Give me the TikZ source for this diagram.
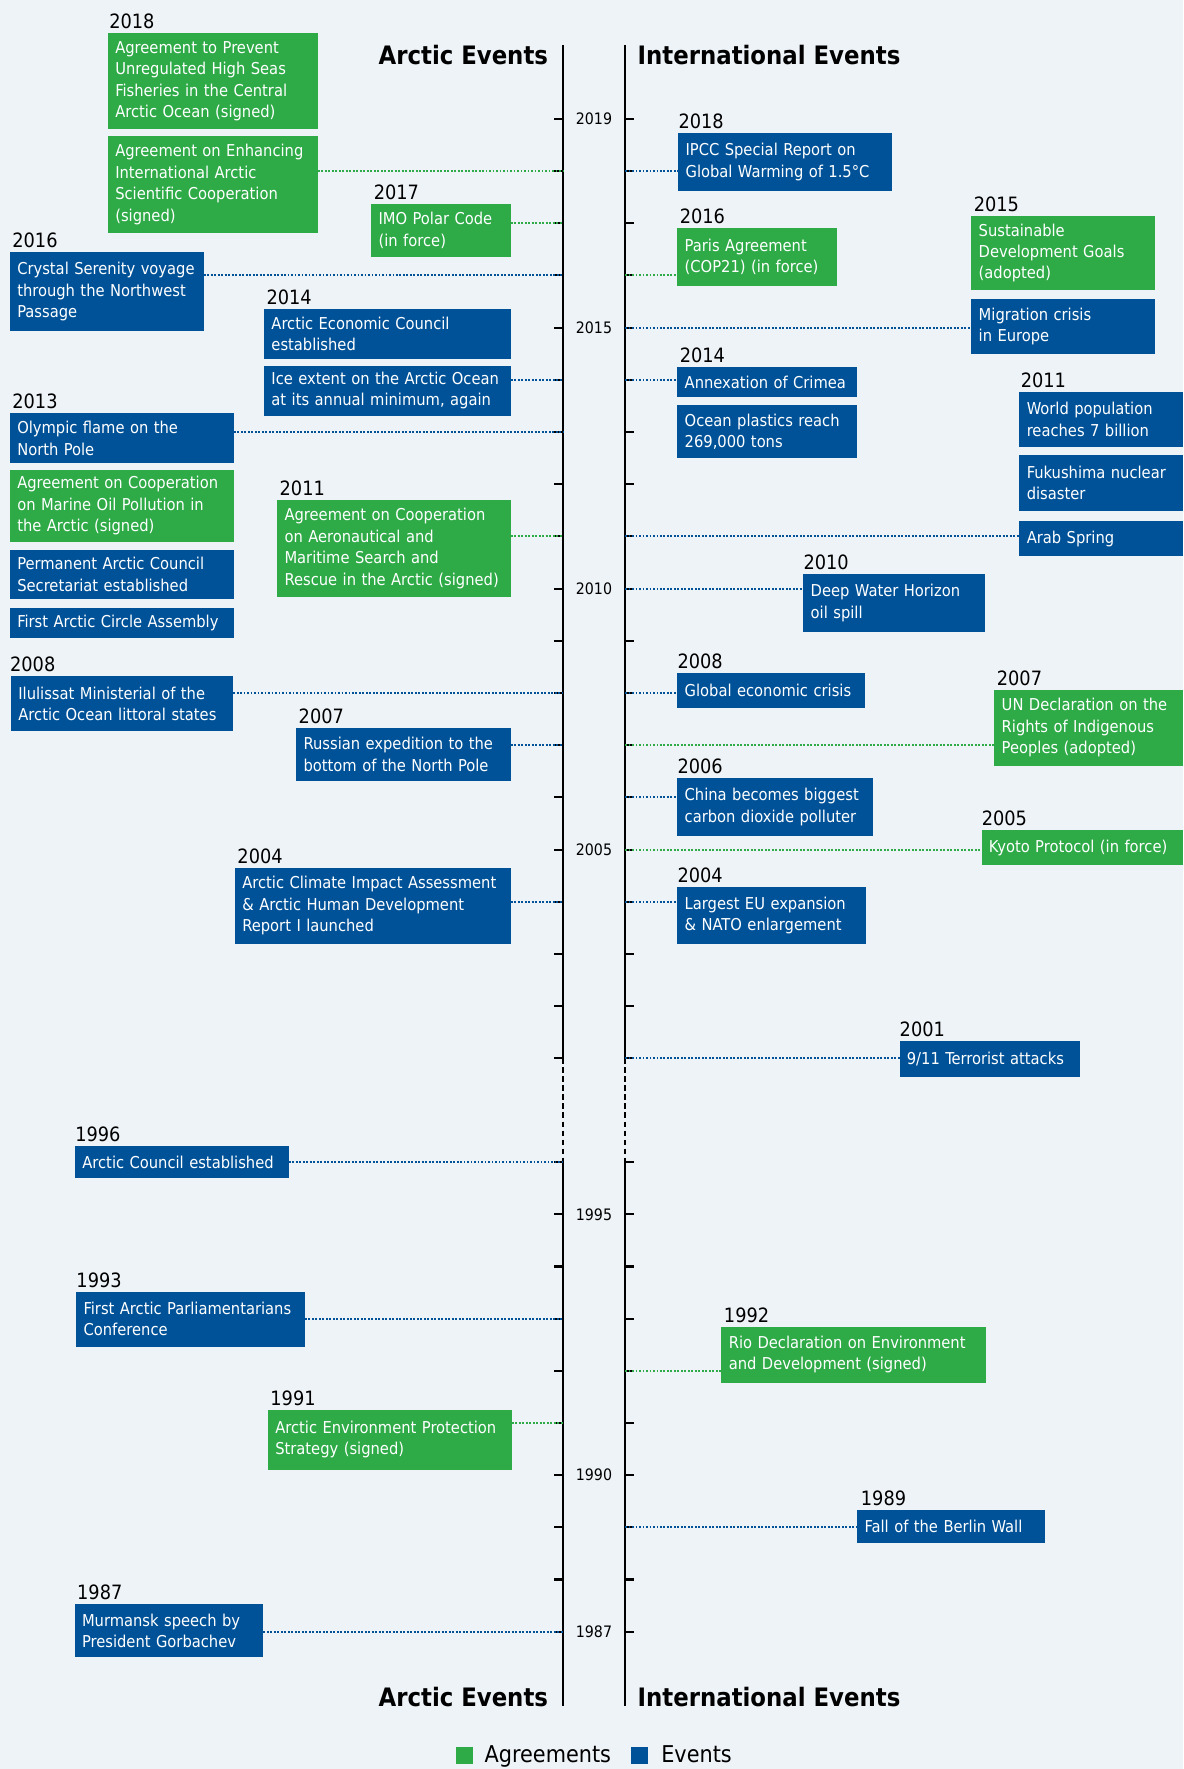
\documentclass[tikz,border=0pt]{standalone}
\usepackage{fontspec}
\setmainfont{DejaVu Sans Condensed}
\usetikzlibrary{calc}
\definecolor{agrgreen}{HTML}{2EAA47}
\definecolor{evblue}{HTML}{005298}
\definecolor{bgcol}{HTML}{EEF3F8}
\tikzset{box/.style={anchor=north west,inner xsep=6.5pt,inner ysep=0pt,outer sep=0pt,
           align=left,text=white,font=\fontsize{14.5}{19}\selectfont},
         agr/.style={box,fill=agrgreen},
         evt/.style={box,fill=evblue},
         year/.style={anchor=base west,inner sep=0pt,font=\fontsize{17.5}{20}\selectfont},
         axisline/.style={line width=1.8pt},
         axisgap/.style={line width=1.2pt,dash pattern=on 5pt off 3pt},
         tickmark/.style={line width=1.8pt},
         ticklabel/.style={inner sep=0pt,font=\fontsize{14}{16}\selectfont},
         agrlink/.style={agrgreen,line width=1.8pt,dash pattern=on 1.7pt off 1.4pt},
         evtlink/.style={evblue,line width=1.8pt,dash pattern=on 1.7pt off 1.4pt},
         heading/.style={inner sep=0pt,font=\fontsize{22.5}{26}\selectfont\bfseries},
         legendkey/.style={anchor=north west,inner sep=0pt,minimum size=15.4pt},
         legendtext/.style={anchor=base west,inner sep=0pt,font=\fontsize{20.5}{24}\selectfont}}

\begin{document}
\begin{tikzpicture}[x=1pt,y=-1pt]
  \fill[bgcol] (0,0) rectangle (1049,1568);
  \useasboundingbox (0,0) rectangle (1049,1568);

  % time axes
  \foreach \yr in {2001,...,2019}{
    \pgfmathsetmacro{\yy}{290.3+(2015-\yr)*46.27}
    \coordinate (L\yr) at (499,\yy);
    \coordinate (R\yr) at (554,\yy);
    \draw[tickmark] (L\yr) -- ++(-8,0);
    \draw[tickmark] (R\yr) -- ++(8,0);
  }
  \foreach \yr in {1987,...,1996}{
    \pgfmathsetmacro{\yy}{1030.1+(1996-\yr)*46.24}
    \coordinate (L\yr) at (499,\yy);
    \coordinate (R\yr) at (554,\yy);
    \draw[tickmark] (L\yr) -- ++(-8,0);
    \draw[tickmark] (R\yr) -- ++(8,0);
  }
  \draw[axisline] (499,40) -- (L2001);
  \draw[axisgap] (L2001) -- (L1996);
  \draw[axisline] (L1996) -- (499,1512);
  \draw[axisline] (554,40) -- (R2001);
  \draw[axisgap] (R2001) -- (R1996);
  \draw[axisline] (R1996) -- (554,1512);
  \foreach \yr in {2019,2015,2010,2005,1995,1990,1987}
    \node[ticklabel] (t\yr) at ($(L\yr)!0.5!(R\yr)$) {\yr};

  \node[heading,anchor=base east] (hAtop) at (486,57.5) {Arctic Events};
  \node[heading,anchor=base west] (hItop) at (565,57.5) {International Events};
  \node[heading,anchor=base east] (hAbot) at (486,1513) {Arctic Events};
  \node[heading,anchor=base west] (hIbot) at (565,1513) {International Events};

  % arctic events
  \node[agr,text width=172.9pt,minimum height=85.1pt] (a18a) at (95.7,29.6)
    {Agreement to Prevent\\Unregulated High Seas\\Fisheries in the Central\\Arctic Ocean (signed)};
  \node[agr,text width=172.9pt,minimum height=85.7pt] (a18b) at (95.7,120.6)
    {Agreement on Enhancing\\International Arctic\\Scientific Cooperation\\(signed)};
  \node[agr,text width=110.6pt,minimum height=46.7pt] (a17) at (329.1,180.9)
    {IMO Polar Code\\(in force)};
  \node[evt,text width=158.7pt,minimum height=69.4pt] (a16) at (8.8,223.8)
    {Crystal Serenity voyage\\through the Northwest\\Passage};
  \node[evt,text width=205.6pt,minimum height=43.7pt] (a14a) at (234.1,274.3)
    {Arctic Economic Council\\established};
  \node[evt,text width=205.6pt,minimum height=44.6pt] (a14b) at (234.1,324)
    {Ice extent on the Arctic Ocean\\at its annual minimum, again};
  \node[evt,text width=185.5pt,minimum height=43.8pt] (a13a) at (8.8,366.5)
    {Olympic flame on the\\North Pole};
  \node[agr,text width=185.5pt,minimum height=64.1pt] (a13b) at (8.8,416.2)
    {Agreement on Cooperation\\on Marine Oil Pollution in\\the Arctic (signed)};
  \node[evt,text width=185.5pt,minimum height=43.8pt] (a13c) at (8.8,487.1)
    {Permanent Arctic Council\\Secretariat established};
  \node[evt,text width=185.5pt,minimum height=26.9pt] (a13d) at (8.8,538.6)
    {First Arctic Circle Assembly};
  \node[agr,text width=194pt,minimum height=85.7pt] (a11) at (245.7,443.4)
    {Agreement on Cooperation\\on Aeronautical and\\Maritime Search and\\Rescue in the Arctic (signed)};
  \node[evt,text width=183.8pt,minimum height=48.4pt] (a08) at (9.8,599.5)
    {Ilulissat Ministerial of the\\Arctic Ocean littoral states};
  \node[evt,text width=177.1pt,minimum height=47.3pt] (a07) at (262.6,645)
    {Russian expedition to the\\bottom of the North Pole};
  \node[evt,text width=231.4pt,minimum height=67.7pt] (a04) at (208.3,769.1)
    {Arctic Climate Impact Assessment\\\& Arctic Human Development\\Report I launched};
  \node[evt,text width=176.4pt,minimum height=28.7pt] (a96) at (66.5,1015.6)
    {Arctic Council established};
  \node[evt,text width=189.6pt,minimum height=48.7pt] (a93) at (67.6,1144.8)
    {First Arctic Parliamentarians\\Conference};
  \node[agr,text width=203pt,minimum height=52.9pt] (a91) at (237.5,1249.7)
    {Arctic Environment Protection\\Strategy (signed)};
  \node[evt,text width=154.2pt,minimum height=47.3pt] (a87) at (66.2,1421.7)
    {Murmansk speech by\\President Gorbachev};

  \node[year] (ya18) at ([xshift=1pt,yshift=4pt]a18a.north west) {2018};
  \node[year] (ya17) at ([xshift=2pt,yshift=4pt]a17.north west) {2017};
  \node[year] (ya16) at ([xshift=2pt,yshift=4pt]a16.north west) {2016};
  \node[year] (ya14) at ([xshift=2pt,yshift=4pt]a14a.north west) {2014};
  \node[year] (ya13) at ([xshift=2pt,yshift=4pt]a13a.north west) {2013};
  \node[year] (ya11) at ([xshift=2pt,yshift=4pt]a11.north west) {2011};
  \node[year] (ya08) at ([xshift=-1pt,yshift=4pt]a08.north west) {2008};
  \node[year] (ya07) at ([xshift=2pt,yshift=4pt]a07.north west) {2007};
  \node[year] (ya04) at ([xshift=2pt,yshift=4pt]a04.north west) {2004};
  \node[year] (ya96) at ([xshift=0pt,yshift=4pt]a96.north west) {1996};
  \node[year] (ya93) at ([xshift=0pt,yshift=4pt]a93.north west) {1993};
  \node[year] (ya91) at ([xshift=2pt,yshift=4pt]a91.north west) {1991};
  \node[year] (ya87) at ([xshift=2pt,yshift=4pt]a87.north west) {1987};

  \draw[agrlink] (a18b.east |- L2018) -- (L2018);
  \draw[agrlink] (a17.east |- L2017) -- (L2017);
  \draw[evtlink] (a16.east |- L2016) -- (L2016);
  \draw[evtlink] (a14b.east |- L2014) -- (L2014);
  \draw[evtlink] (a13a.east |- L2013) -- (L2013);
  \draw[agrlink] (a11.east |- L2011) -- (L2011);
  \draw[evtlink] (a08.east |- L2008) -- (L2008);
  \draw[evtlink] (a07.east |- L2007) -- (L2007);
  \draw[evtlink] (a04.east |- L2004) -- (L2004);
  \draw[evtlink] (a96.east |- L1996) -- (L1996);
  \draw[evtlink] (a93.east |- L1993) -- (L1993);
  \draw[agrlink] (a91.east |- L1991) -- (L1991);
  \draw[evtlink] (a87.east |- L1987) -- (L1987);

  % international events
  \node[evt,text width=176.7pt,minimum height=50.9pt] (i18) at (601.2,118.2)
    {IPCC Special Report on\\Global Warming of 1.5°C};
  \node[agr,text width=128.8pt,minimum height=50.8pt] (i16) at (600.4,202.5)
    {Paris Agreement\\(COP21) (in force)};
  \node[agr,text width=149.9pt,minimum height=65.4pt] (i15a) at (861,191.5)
    {Sustainable\\Development Goals\\(adopted)};
  \node[evt,text width=149.9pt,minimum height=48.2pt] (i15b) at (861,265.4)
    {Migration crisis\\in Europe};
  \node[evt,text width=146.3pt,minimum height=26.2pt] (i14a) at (600.4,325.5)
    {Annexation of Crimea};
  \node[evt,text width=146.3pt,minimum height=46.7pt] (i14b) at (600.4,359.1)
    {Ocean plastics reach\\269,000 tons};
  \node[evt,text width=132.4pt,minimum height=48.8pt] (i11a) at (903.6,347.3)
    {World population\\reaches 7 billion};
  \node[evt,text width=132.4pt,minimum height=49.3pt] (i11b) at (903.6,403.5)
    {Fukushima nuclear\\disaster};
  \node[evt,text width=132.4pt,minimum height=30.7pt] (i11c) at (903.6,462)
    {Arab Spring};
  \node[evt,text width=148.1pt,minimum height=51.1pt] (i10) at (712.1,509)
    {Deep Water Horizon\\oil spill};
  \node[evt,text width=153.5pt,minimum height=31.3pt] (i08) at (600.4,596.2)
    {Global economic crisis};
  \node[agr,text width=154.6pt,minimum height=67.7pt] (i07) at (881.4,611.3)
    {UN Declaration on the\\Rights of Indigenous\\Peoples (adopted)};
  \node[evt,text width=160.6pt,minimum height=51.7pt] (i06) at (600.4,689.3)
    {China becomes biggest\\carbon dioxide polluter};
  \node[agr,text width=166pt,minimum height=31.6pt] (i05) at (870,735.4)
    {Kyoto Protocol (in force)};
  \node[evt,text width=154.2pt,minimum height=50.8pt] (i04) at (600.4,786)
    {Largest EU expansion\\\& NATO enlargement};
  \node[evt,text width=147pt,minimum height=31.6pt] (i01) at (797.3,923.1)
    {9/11 Terrorist attacks};
  \node[agr,text width=221.1pt,minimum height=49.7pt] (i92) at (639.5,1175.8)
    {Rio Declaration on Environment\\and Development (signed)};
  \node[evt,text width=153.5pt,minimum height=28.9pt] (i89) at (759.9,1338.4)
    {Fall of the Berlin Wall};

  \node[year] (yi18) at ([xshift=0pt,yshift=4pt]i18.north west) {2018};
  \node[year] (yi16) at ([xshift=2pt,yshift=4pt]i16.north west) {2016};
  \node[year] (yi15) at ([xshift=2pt,yshift=4pt]i15a.north west) {2015};
  \node[year] (yi14) at ([xshift=2pt,yshift=4pt]i14a.north west) {2014};
  \node[year] (yi11) at ([xshift=1pt,yshift=4pt]i11a.north west) {2011};
  \node[year] (yi10) at ([xshift=0pt,yshift=4pt]i10.north west) {2010};
  \node[year] (yi08) at ([xshift=0pt,yshift=4pt]i08.north west) {2008};
  \node[year] (yi07) at ([xshift=2pt,yshift=4pt]i07.north west) {2007};
  \node[year] (yi06) at ([xshift=0pt,yshift=4pt]i06.north west) {2006};
  \node[year] (yi05) at ([xshift=0pt,yshift=4pt]i05.north west) {2005};
  \node[year] (yi04) at ([xshift=0pt,yshift=4pt]i04.north west) {2004};
  \node[year] (yi01) at ([xshift=0pt,yshift=4pt]i01.north west) {2001};
  \node[year] (yi92) at ([xshift=2pt,yshift=4pt]i92.north west) {1992};
  \node[year] (yi89) at ([xshift=3pt,yshift=4pt]i89.north west) {1989};

  \draw[evtlink] (R2018) -- (i18.west |- R2018);
  \draw[agrlink] (R2016) -- (i16.west |- R2016);
  \draw[evtlink] (R2015) -- (i15b.west |- R2015);
  \draw[evtlink] (R2014) -- (i14a.west |- R2014);
  \draw[evtlink] (R2011) -- (i11c.west |- R2011);
  \draw[evtlink] (R2010) -- (i10.west |- R2010);
  \draw[evtlink] (R2008) -- (i08.west |- R2008);
  \draw[agrlink] (R2007) -- (i07.west |- R2007);
  \draw[evtlink] (R2006) -- (i06.west |- R2006);
  \draw[agrlink] (R2005) -- (i05.west |- R2005);
  \draw[evtlink] (R2004) -- (i04.west |- R2004);
  \draw[evtlink] (R2001) -- (i01.west |- R2001);
  \draw[agrlink] (R1992) -- (i92.west |- R1992);
  \draw[evtlink] (R1989) -- (i89.west |- R1989);

  % legend
  \node[legendkey,fill=agrgreen] (keyA) at (404,1548.2) {};
  \node[legendtext] (txtA) at (429.4,1562.3) {Agreements};
  \node[legendkey,fill=evblue] (keyE) at (559.2,1548.2) {};
  \node[legendtext] (txtE) at (586,1562.3) {Events};
\end{tikzpicture}
\end{document}
